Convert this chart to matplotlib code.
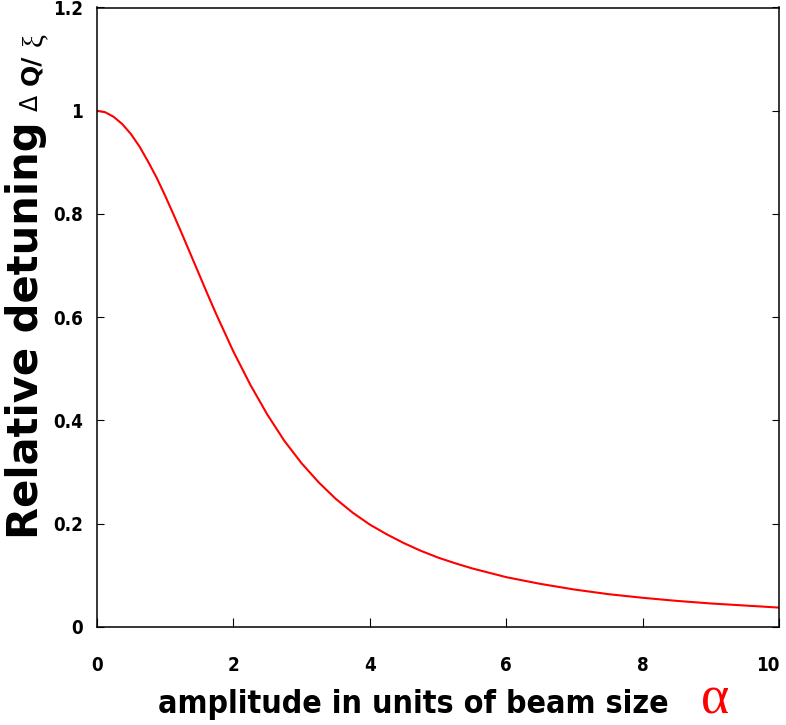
#!/usr/bin/env python
import os
import matplotlib
matplotlib.use("Agg")
import matplotlib.pyplot as plt
from matplotlib import font_manager
from matplotlib.font_manager import FontProperties

# amplitude (units of beam size) and relative detuning
amplitude = [0.0, 0.125, 0.25, 0.375, 0.5, 0.625, 0.75, 0.875, 1.0, 1.125,
             1.25, 1.375, 1.5, 1.625, 1.75, 1.875, 2.0, 2.25, 2.5, 2.75,
             3.0, 3.25, 3.5, 3.75, 4.0, 4.25, 4.5, 4.75, 5.0, 5.25, 5.5,
             6.0, 6.5, 7.0, 7.5, 8.0, 8.5, 9.0, 9.5, 10.0]
detuning = [1.000, 0.997, 0.988, 0.974, 0.955, 0.931, 0.902, 0.871, 0.836,
            0.799, 0.761, 0.722, 0.683, 0.644, 0.606, 0.570, 0.534, 0.469,
            0.411, 0.360, 0.317, 0.280, 0.248, 0.221, 0.198, 0.179, 0.162,
            0.147, 0.134, 0.123, 0.113, 0.096, 0.083, 0.072, 0.063, 0.056,
            0.050, 0.045, 0.041, 0.037]

xticks = [0, 2, 4, 6, 8, 10]
yticks = [0, 0.2, 0.4, 0.6, 0.8, 1, 1.2]
yticklabels = ["0", "0.2", "0.4", "0.6", "0.8", "1", "1.2"]

W, H = 786, 725


def find_narrow_bold():
    prefs = ["liberationsansnarrow-bold.", "arialnarrowbold", "arial narrow bold",
             "arialn bd", "dejavusanscondensed-bold.", "notosans-condensedbold.",
             "robotocondensed-bold.", "roboto_condensed-bold.",
             "opensans_condensed-bold.", "opensanscondensed-bold.",
             "opensans-condensedbold.", "lato-condensedbold"]
    files = font_manager.findSystemFonts() + [f.fname for f in font_manager.fontManager.ttflist]
    files = [f for f in files if f.lower().endswith((".ttf", ".otf"))]
    for p in prefs:
        for fn in files:
            if p in os.path.basename(fn).lower():
                return fn
    for fn in files:
        b = os.path.basename(fn).lower()
        if ("narrow" in b or "condensed" in b) and "bold" in b and not any(
                k in b for k in ("semi", "extra", "italic", "oblique", "ultra")):
            return fn
    return None


def main():
    fn = find_narrow_bold()
    if fn:
        tick_font = FontProperties(fname=fn, size=13.5)
        xlab_font = FontProperties(fname=fn, size=30)
    else:
        tick_font = FontProperties(family="Liberation Sans", weight="bold", size=13)
        xlab_font = FontProperties(family="Liberation Sans", weight="bold", size=25)

    fig = plt.figure(figsize=(W / 100, H / 100), dpi=100)
    ax = fig.add_axes([96.7 / W, 1 - 626.7 / H, (779.3 - 96.7) / W, (626.7 - 7.5) / H])

    ax.plot(amplitude, detuning, color="red", lw=1.5)
    ax.set_xlim(0, 10)
    ax.set_ylim(0, 1.2)

    ax.set_xticks(xticks)
    ax.set_xticklabels([str(t) for t in xticks])
    ax.set_yticks(yticks)
    ax.set_yticklabels(yticklabels)

    for s in ax.spines.values():
        s.set_linewidth(1.1)
    ax.tick_params(axis="x", direction="in", length=6.5, width=0.8, pad=21, top=False)
    ax.tick_params(axis="y", direction="in", length=5, width=0.8, pad=10, right=True)
    for label in ax.get_xticklabels() + ax.get_yticklabels():
        label.set_fontproperties(tick_font)
    # keep the last x label inside the figure
    ax.get_xticklabels()[-1].set_horizontalalignment("right")

    # x label with a red alpha
    xl = fig.text(158 / W, 1 - 713 / H, "amplitude in units of beam size",
                  fontproperties=xlab_font, ha="left", va="baseline")
    fig.canvas.draw()
    w = xl.get_window_extent().width
    xl.set_fontsize(xlab_font.get_size() * 510.0 / w)
    fig.text(701 / W, 1 - 714 / H, "\u03b1", family="Liberation Serif",
             color="red", fontsize=39, ha="left", va="baseline")

    # y label pieces, rotated
    parts = [("Relative detuning", 539, "DejaVu Sans", "bold", 30, 38),
             ("\u0394", 111, "DejaVu Sans", "normal", 17, 38),
             ("Q/", 85, "DejaVu Sans", "bold", 18, 38),
             ("\u03be", 46, "Liberation Serif", "normal", 21, 42)]
    for text, y0, fam, wt, size, xb in parts:
        fig.text(xb / W, 1 - y0 / H, text, family=fam, weight=wt, fontsize=size,
                 rotation=90, rotation_mode="anchor", ha="left", va="baseline")

    fig.savefig("out.png", dpi=100)


if __name__ == "__main__":
    main()
